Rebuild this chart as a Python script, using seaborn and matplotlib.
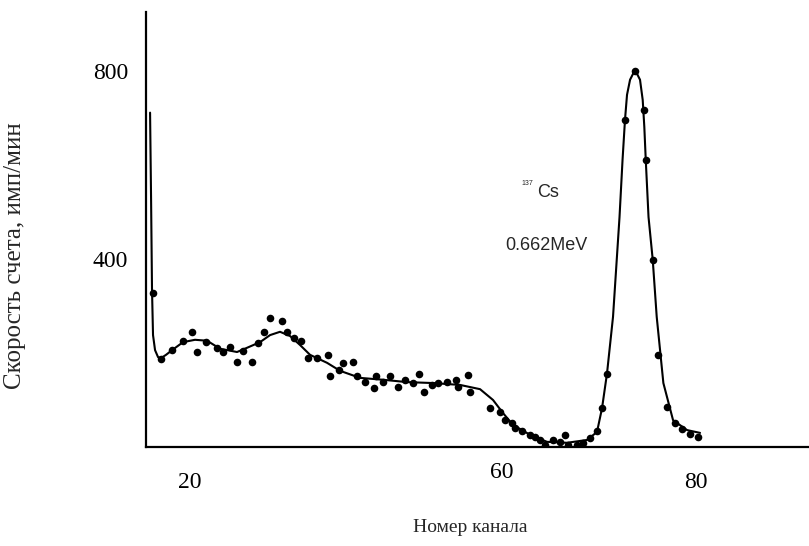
import numpy as np
import pandas as pd
import matplotlib
matplotlib.use('Agg')
import matplotlib.pyplot as plt
import matplotlib.transforms as mtransforms
import seaborn as sns

### measured points (channel, count rate)
pt_channel = [15.65, 16.53, 17.83, 19.21, 20.20, 20.79, 21.90, 23.17, 23.95, 24.74,
              25.54, 26.32, 27.39, 28.10, 28.78, 29.49, 30.87, 31.47, 32.33, 33.16,
              33.99, 35.02, 36.33, 36.60, 37.67, 38.18, 39.29, 39.77, 40.75, 41.82,
              42.06, 42.85, 43.72, 44.63, 45.50, 46.48, 47.19, 47.75, 48.66, 49.44,
              50.44, 51.54, 51.82, 53.00, 53.20, 55.57, 56.76, 57.35, 58.15, 58.54,
              59.33, 60.32, 60.91, 61.50, 62.10, 63.08, 63.88, 64.47, 64.86, 65.86,
              66.64, 67.43, 68.23, 68.82, 69.45, 71.58, 72.77, 73.87, 74.04, 74.87,
              75.53, 76.53, 77.51, 78.31, 79.29, 80.28]
pt_rate = [327, 187, 206, 226, 244, 203, 224, 210, 201, 213,
           180, 205, 180, 221, 245, 274, 267, 245, 232, 226,
           189, 189, 196, 150, 164, 178, 181, 150, 139, 125,
           150, 139, 150, 128, 143, 136, 155, 118, 132, 136,
           139, 143, 128, 153, 118, 84, 75, 57, 50, 40,
           33, 26, 22, 15, 4, 15, 11, 26, 4, 4,
           8, 19, 33, 82, 155, 696, 799, 717, 611, 398,
           196, 86, 50, 38, 28, 22]

### fitted curve
fit_channel = [15.26, 15.38, 15.49, 15.61, 15.85, 16.21, 16.56, 17.15, 17.87, 19.17,
               20.59, 22.02, 23.56, 25.57, 26.76, 28.30, 29.49, 30.67, 31.86, 33.04,
               34.23, 36.25, 37.79, 40.16, 42.89, 45.73, 48.82, 52.02, 54.39, 55.93,
               57.12, 58.30, 60.32, 62.33, 64.70, 67.08, 68.26, 68.86, 69.45, 70.16,
               70.93, 71.29, 71.58, 71.82, 72.18, 72.77, 73.36, 73.68, 73.87, 74.04,
               74.37, 74.87, 75.34, 76.13, 77.28, 78.94, 80.48]
fit_rate = [711, 526, 334, 238, 206, 191, 189, 196, 206, 223,
            228, 226, 209, 202, 211, 223, 238, 245, 236, 217,
            196, 179, 162, 147, 143, 138, 136, 132, 123, 100,
            72, 47, 26, 11, 9, 15, 32, 83, 157, 277,
            489, 611, 696, 749, 781, 802, 781, 738, 681, 611,
            489, 398, 277, 136, 57, 36, 30]

x_ticks = [20, 60, 80]
y_ticks = [400, 800]

points = pd.DataFrame({'channel': pt_channel, 'rate': pt_rate})
fit = pd.DataFrame({'channel': fit_channel, 'rate': fit_rate})

sns.set_style('white')
plt.rcParams['font.family'] = ['Liberation Serif', 'DejaVu Serif']

fig = plt.figure(figsize=(8.09, 5.46), dpi=100)
ax = fig.add_axes([0.1805, 0.1813, 0.8195, 0.7967])

sns.lineplot(data=fit, x='channel', y='rate', sort=False, color='black',
             linewidth=1.5, ax=ax)
sns.scatterplot(data=points, x='channel', y='rate', color='black', s=30,
                edgecolor='black', linewidth=0, ax=ax)

ax.set_xlim(14.78, 93.4)
ax.set_ylim(0, 925)
sns.despine(ax=ax)
for s in ['left', 'bottom']:
    ax.spines[s].set_linewidth(1.6)
    ax.spines[s].set_color('black')

ax.set_xticks(x_ticks)
ax.set_yticks(y_ticks)
ax.tick_params(axis='both', length=0, labelsize=17, colors='black')
ax.tick_params(axis='x', pad=18)
ax.tick_params(axis='y', pad=13)
# the "60" label sits left of its tick and a bit higher in the original
lbl60 = ax.get_xticklabels()[1]
lbl60.set_transform(lbl60.get_transform() +
                    mtransforms.ScaledTranslation(-26 / 100, 10 / 100, fig.dpi_scale_trans))

ax.set_xlabel('Номер канала', fontsize=14)
ax.set_ylabel('Скорость счета, имп/мин', fontsize=18)
ax.xaxis.set_label_coords(0.489, -0.165)
ax.yaxis.set_label_coords(-0.181, 0.441)

ax.text(59.33, 557, '137', fontsize=5, family='Liberation Sans')
ax.text(61.11, 532, 'Cs', fontsize=13, family='Liberation Sans')
ax.text(57.35, 419, '0.662MeV', fontsize=13, family='Liberation Sans')

fig.savefig('out.png', dpi=100)
